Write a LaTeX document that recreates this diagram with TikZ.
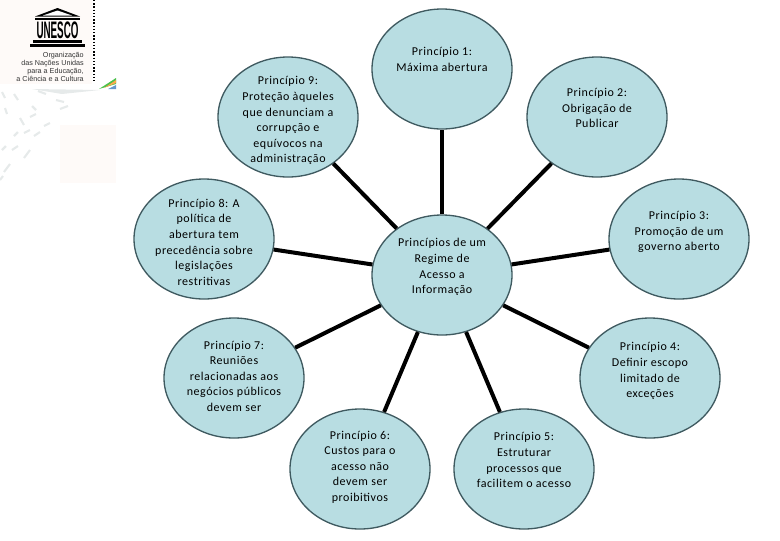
\documentclass[tikz,border=0pt]{standalone}
\usepackage{fontspec}
\setmainfont[LetterSpace=4.5]{Carlito}
\newfontfamily\logofont{Liberation Sans}
\usetikzlibrary{shapes.geometric}
\definecolor{bubble}{HTML}{B8DDE2}
\definecolor{rim}{HTML}{3F5A60}
\definecolor{paper}{HTML}{FEFAF8}
\definecolor{dashgray}{HTML}{E6EAEA}
\newlength{\pxu}\setlength{\pxu}{0.75pt}
\newlength{\lift}
\newcommand{\bubbletext}[2]{\setlength{\lift}{#1\pxu}\addtolength{\lift}{-3.2pt}\raisebox{\lift}[0pt][0pt]{\begin{tabular}{@{}c@{}}#2\end{tabular}}}
\tikzset{
  bubblenode/.style={ellipse,draw=rim,line width=1pt,fill=bubble,minimum width=105pt,minimum height=90pt,inner sep=0pt,
    font=\fontsize{9}{11.7}\selectfont,align=center},
  spoke/.style={line width=3pt,black},
  fleck/.style={line width=1.6pt,dashgray,line cap=butt},
  logotext/.style={font=\logofont\fontsize{5.4}{6}\selectfont,anchor=east,inner sep=0pt,text=black!80}
}
\begin{document}
\begin{tikzpicture}[x=0.75pt,y=-0.75pt]
\useasboundingbox (0,0) rectangle (780,540);
% backdrop of the letterhead
\fill[paper] (0,0) rectangle (92,84);
\fill[paper] (60,125) rectangle (116,183);
\draw[line width=0.9pt,black,dash pattern=on 1pt off 1.4pt] (94,0) -- (94,82);
\fill[dashgray] (32,89) -- (100,90) -- (62,94) -- cycle;
\fill[black!35!green!70!white] (99,89) -- (116,78) -- (116,84) -- cycle;
\fill[orange!70!white] (104,88) -- (116,80) -- (116,83) -- cycle;
\fill[blue!35!teal!60!white] (108,89) -- (116,85) -- (116,89) -- cycle;
\foreach \a/\b/\c/\d in {2/92/5/98, 14/94/18/100, 38/91/46/94, 56/100/64/102, 5/108/7/114, 32/106/36/110, 60/109/68/106, 20/118/24/125, 30/117/36/114, 44/126/50/123, 14/136/18/132, 24/133/30/130, 34/136/40/132, 2/150/6/146, 12/150/18/146, 24/158/30/150, 4/172/10/164, 0/180/3/176}
  \draw[fleck] (\a,\b) -- (\c,\d);
% UNESCO temple
\fill[black] (35,16.5) -- (57.5,8) -- (80,16.5) -- cycle;
\fill[white] (43,15.5) -- (57.5,10.5) -- (72,15.5) -- cycle;
\fill[black] (35,17.5) rectangle (80,20);
\node[inner sep=0pt] (unesco) at (57.5,30) {\resizebox{31.5pt}{12.5pt}{\logofont\bfseries UNESCO}};
\fill[black] (33,40) rectangle (82,43);
\fill[black] (30,44) rectangle (85,46.5);
\node[logotext] (l1) at (84,56) {Organização};
\node[logotext] (l2) at (84,64) {das Nações Unidas};
\node[logotext] (l3) at (84,72) {para a Educação,};
\node[logotext] (l4) at (84,79) {a Ciência e a Cultura};
% bubbles
\node[bubblenode] (c) at (442,275) {\bubbletext{9}{Princípios de um\\Regime de\\Acesso a\\Informação}};
\node[bubblenode] (p1) at (442,69) {\bubbletext{10}{Princípio 1:\\Máxima abertura}};
\node[bubblenode] (p2) at (597,117) {\bubbletext{9}{Princípio 2:\\Obrigação de\\Publicar}};
\node[bubblenode] (p3) at (679,239) {\bubbletext{8}{Princípio 3:\\Promoção de um\\governo aberto}};
\node[bubblenode] (p4) at (650,378) {\bubbletext{8}{Princípio 4:\\Definir escopo\\limitado de\\exceções}};
\node[bubblenode] (p5) at (524,469) {\bubbletext{9}{Princípio 5:\\Estruturar\\processos que\\facilitem o acesso}};
\node[bubblenode] (p6) at (360,469) {\bubbletext{3}{Princípio 6:\\Custos para o\\acesso não\\devem ser\\proibitivos}};
\node[bubblenode] (p7) at (234,378) {\bubbletext{2}{Princípio 7:\\Reuniões\\relacionadas aos\\negócios públicos\\devem ser}};
\node[bubblenode] (p8) at (204,239) {\bubbletext{-3}{Princípio 8: A\\política de\\abertura tem\\precedência sobre\\legislações\\restritivas}};
\node[bubblenode] (p9) at (288,117) {\bubbletext{-2.5}{Princípio 9:\\Proteção àqueles\\que denunciam a\\corrupção e\\equívocos na\\administração}};
% spokes
\foreach \n in {p1,p2,p3,p4,p5,p6,p7,p8,p9}
  \draw[spoke] (c) -- (\n);
\end{tikzpicture}
\end{document}
